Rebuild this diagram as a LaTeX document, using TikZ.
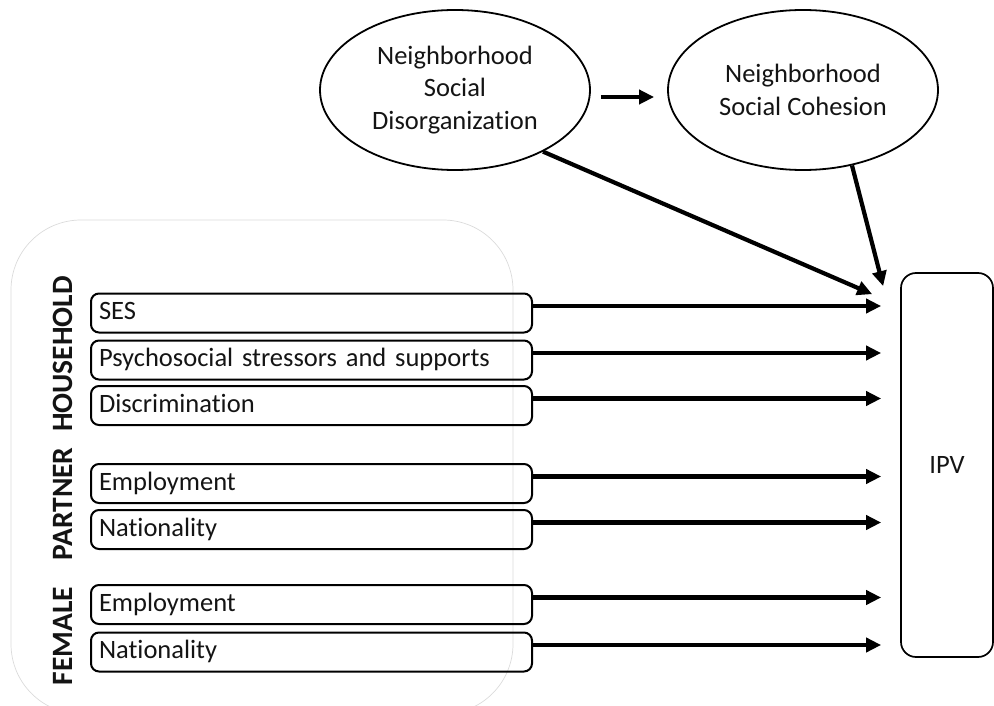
\documentclass[tikz,border=0pt]{standalone}
\usepackage{fontspec}
\setmainfont{Carlito}[Ligatures=NoCommon]
\usetikzlibrary{arrows.meta,shapes.geometric}
\begin{document}
\begin{tikzpicture}[x=1pt,y=-1pt,
  every node/.style={text=black!92, font=\fontsize{26.5}{32.5}\selectfont},
  oval/.style={ellipse, draw=black, line width=1.8pt, minimum width=270pt,
    minimum height=160pt, inner sep=0pt, align=center},
  factor/.style={draw=black, line width=2pt, rounded corners=8pt,
    minimum width=441pt, minimum height=39pt, inner xsep=8pt, inner ysep=0pt,
    text width=425pt, align=left, text height=17pt, text depth=3.4pt},
  outcome/.style={draw=black, line width=1.7pt, rounded corners=15pt,
    minimum width=92pt, minimum height=384pt, inner sep=0pt},
  level/.style={rotate=90, anchor=base, inner sep=0pt,
    font=\fontsize{29.5}{34}\selectfont\bfseries},
  conn/.style={draw=black, line width=4.2pt, -{Triangle[length=15pt,width=14pt]}}
]
\path[use as bounding box] (0,0) rectangle (994,706);

% grouping panel behind the factor boxes
\draw[black!14, line width=0.7pt, rounded corners=70pt] (11,220) rectangle (513,714);

% neighbourhood constructs
\node[oval] (disorg) at (455,90) {Neighborhood\\Social\\Disorganization};
\node[oval] (cohes) at (803,90) {Neighborhood\\Social Cohesion};

% outcome
\node[outcome] (ipv) at (947,465) {IPV};

% factor boxes
\node[factor] (ses)  at (311.5,313)   {SES};
\node[factor] (psy)  at (311.5,360)   {Psychosocial stressors and supports};
\node[factor] (dis)  at (311.5,405.5) {Discrimination};
\node[factor] (pemp) at (311.5,483.5) {Employment};
\node[factor] (pnat) at (311.5,529.5) {Nationality};
\node[factor] (femp) at (311.5,604.5) {Employment};
\node[factor] (fnat) at (311.5,652)   {Nationality};

% level labels
\node[level] (hh)  at (72,354) {HOUSEHOLD};
\node[level] (ptn) at (72,504) {PARTNER};
\node[level] (fem) at (72,636) {FEMALE};

% factor -> IPV
\foreach \n in {ses,psy,dis,pemp,pnat,femp,fnat}{
  \coordinate (\n-out) at ([yshift=7pt]\n.east);
  \draw[conn, shorten >=19pt] (\n-out) -- (\n-out -| ipv.west);
}

% neighbourhood paths
\coordinate (dstart) at ([xshift=10pt,yshift=-7pt]disorg.east);
\draw[conn, shorten >=13pt] (dstart) -- (dstart -| cohes.west);
\coordinate (tipA) at ([xshift=-28pt,yshift=-22pt]ipv.north west);
\coordinate (tipB) at ([xshift=-17pt,yshift=-14pt]ipv.north west);
\draw[conn] (disorg.-35.5) -- (tipA);
\draw[conn] (cohes.-57) -- (tipB);
\end{tikzpicture}
\end{document}
